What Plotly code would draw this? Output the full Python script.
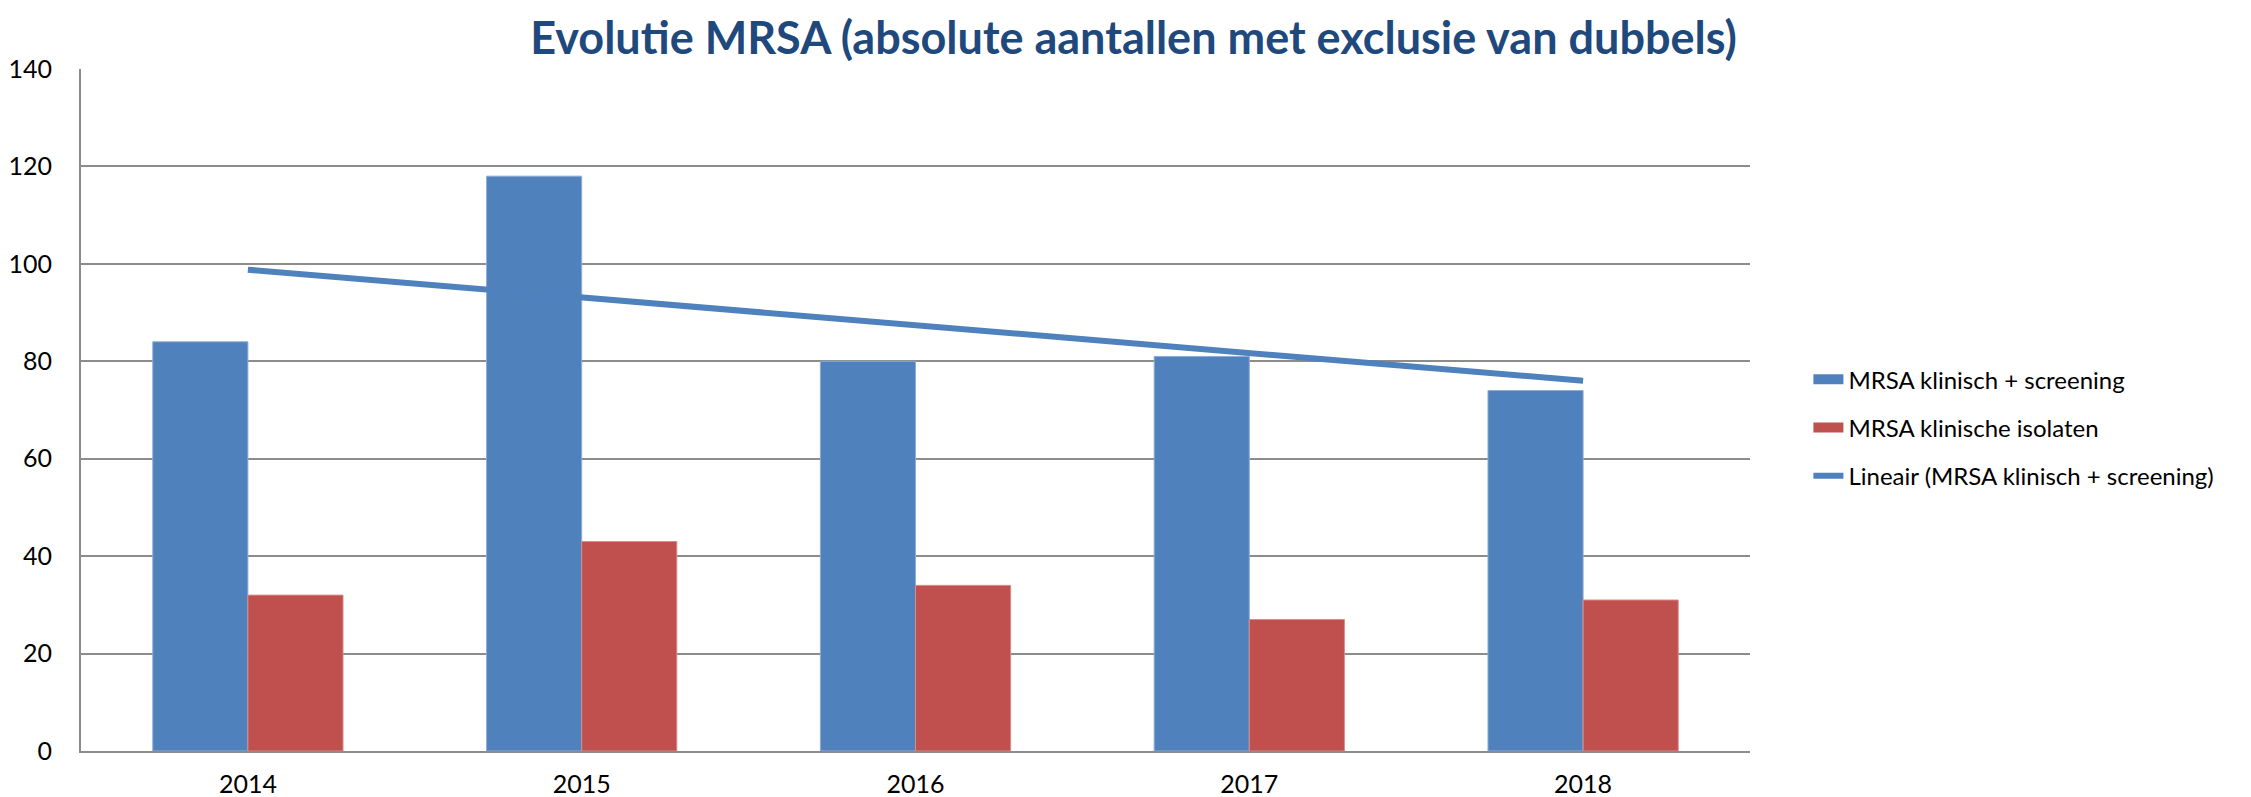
import numpy as np
import plotly.graph_objects as go

years = ["2014", "2015", "2016", "2017", "2018"]
klinisch_screening = [84, 118, 80, 81, 74]
klinische_isolaten = [32, 43, 34, 27, 31]
y_ticks = [0, 20, 40, 60, 80, 100, 120, 140]

# Excel-style linear trendline of the first series
xi = np.arange(len(years))
slope, intercept = np.polyfit(xi, klinisch_screening, 1)
trend = list(slope * xi + intercept)

BLUE = "#4F81BD"
RED = "#C0504D"
GRID = "#8C8C8C"
FONT = "Lato"

fig = go.Figure()
fig.add_trace(go.Bar(x=years, y=klinisch_screening, name="MRSA klinisch + screening",
                     marker=dict(color=BLUE, line=dict(color="#8EACD6", width=1)),
                     showlegend=False))
fig.add_trace(go.Bar(x=years, y=klinische_isolaten, name="MRSA klinische isolaten",
                     marker=dict(color=RED, line=dict(color="#D98C8A", width=1)),
                     showlegend=False))
fig.add_trace(go.Scatter(x=years, y=trend, mode="lines",
                         name="Lineair (MRSA klinisch + screening)",
                         line=dict(color=BLUE, width=6), showlegend=False))

# legend-only entries (rectangular swatches like Excel)
fig.add_trace(go.Scatter(x=[None], y=[None], mode="lines", name="MRSA klinisch + screening",
                         line=dict(color=BLUE, width=13), legendgroup="a"))
fig.add_trace(go.Scatter(x=[None], y=[None], mode="lines", name="MRSA klinische isolaten",
                         line=dict(color=RED, width=13), legendgroup="b"))
fig.add_trace(go.Scatter(x=[None], y=[None], mode="lines",
                         name="Lineair (MRSA klinisch + screening)",
                         line=dict(color=BLUE, width=6), legendgroup="c"))

fig.update_layout(
    width=2251, height=797,
    margin=dict(l=73, r=509, t=61, b=54, autoexpand=False),
    paper_bgcolor="white", plot_bgcolor="white",
    barmode="group", bargap=0.43, bargroupgap=0,
    font=dict(family=FONT, size=24, color="black"),
    title=dict(text="<b>Evolutie MRSA (absolute aantallen met exclusie van dubbels)</b>",
               x=0.5, xref="container", xanchor="center",
               y=1 - 30 / 797, yref="container", yanchor="middle",
               font=dict(family=FONT, size=45, color="#1F497D")),
    legend=dict(x=1.035, xanchor="left", y=0.474, yanchor="middle",
                font=dict(family=FONT, size=24, color="black"),
                tracegroupgap=14, bgcolor="rgba(0,0,0,0)"),
    xaxis=dict(showline=True, linecolor=GRID, linewidth=2, showgrid=False,
               ticks="", tickfont=dict(size=25), ticklabelstandoff=10,
               automargin=False),
    yaxis=dict(range=[0, 140], tickvals=y_ticks, showgrid=True, gridcolor=GRID,
               gridwidth=2, showline=True, linecolor=GRID, linewidth=2,
               zeroline=False, ticks="", tickfont=dict(size=25),
               ticklabelstandoff=22, automargin=False),
)

fig.write_html("out.html")
